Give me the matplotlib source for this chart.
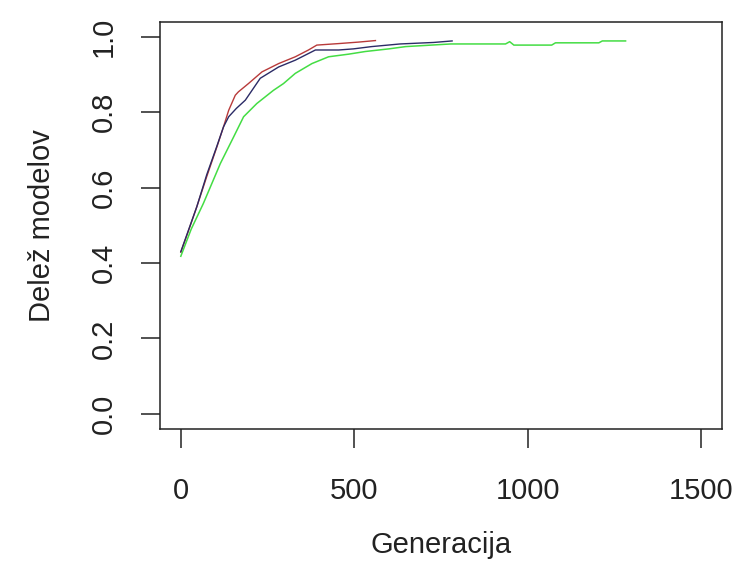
import matplotlib
matplotlib.use('Agg')
import matplotlib.pyplot as plt

# Series (generation, share of models)
red_gen = [0, 20, 46, 75, 104, 123, 138, 157, 166, 195, 234, 282, 330, 368, 392, 455, 513, 561]
red_val = [0.429, 0.48, 0.549, 0.63, 0.708, 0.761, 0.805, 0.845, 0.854, 0.876, 0.907, 0.929,
           0.947, 0.965, 0.978, 0.982, 0.986, 0.990]

blue_gen = [0, 46, 75, 104, 123, 138, 160, 186, 229, 282, 330, 388, 455, 498, 550, 632, 729, 782]
blue_val = [0.43, 0.549, 0.635, 0.71, 0.761, 0.788, 0.81, 0.832, 0.89, 0.920, 0.938, 0.965,
            0.965, 0.968, 0.974, 0.981, 0.985, 0.989]

green_gen = [0, 30, 65, 114, 152, 181, 219, 267, 296, 330, 378, 426, 484, 532, 600, 648, 778,
             936, 948, 960, 1069, 1080, 1205, 1215, 1282]
green_val = [0.418, 0.49, 0.558, 0.664, 0.734, 0.788, 0.823, 0.858, 0.876, 0.903, 0.929, 0.947,
             0.954, 0.961, 0.968, 0.974, 0.981, 0.981, 0.987, 0.978, 0.978, 0.984, 0.984, 0.989, 0.989]

x_ticks = [0, 500, 1000, 1500]
y_ticks = [0.0, 0.2, 0.4, 0.6, 0.8, 1.0]

plt.rcParams['font.family'] = ['Liberation Sans', 'DejaVu Sans']

fig = plt.figure(figsize=(7.4, 5.82), dpi=100)
ax = fig.add_axes([0.2162, 0.2629, 0.7595, 0.6998])

ax.plot(red_gen, red_val, color='#b83a3a', lw=1.0)
ax.plot(green_gen, green_val, color='#44dd44', lw=1.1)
ax.plot(blue_gen, blue_val, color='#2b2b66', lw=1.0)

ax.set_xlim(-60, 1560)
ax.set_ylim(-0.04, 1.04)
ax.set_xticks(x_ticks)
ax.set_xticklabels([str(t) for t in x_ticks])
ax.set_yticks(y_ticks)
ax.set_yticklabels(['%.1f' % t for t in y_ticks], rotation=90, va='center')

ax.tick_params(direction='out', length=13.5, width=1.1, labelsize=21, colors='#222222')
ax.tick_params(axis='x', pad=21)
ax.tick_params(axis='y', pad=17)
for sp in ax.spines.values():
    sp.set_linewidth(1.1)
    sp.set_color('#222222')

ax.set_xlabel('Generacija', fontsize=21, color='#222222', labelpad=19)
ax.set_ylabel('Delež modelov', fontsize=21, color='#222222', labelpad=24)

fig.savefig('out.png', dpi=100)
